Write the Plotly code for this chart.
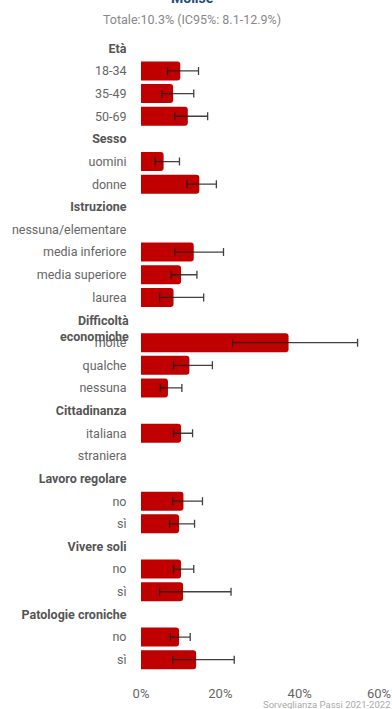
import plotly.graph_objects as go

# ---- data ----
groups = ["Età", "Sesso", "Istruzione", "Difficoltà<br>economiche", "Cittadinanza",
          "Lavoro regolare", "Vivere soli", "Patologie croniche"]
items = [
    ["18-34", "35-49", "50-69"],
    ["uomini", "donne"],
    ["nessuna/elementare", "media inferiore", "media superiore", "laurea"],
    ["molte", "qualche", "nessuna"],
    ["italiana", "straniera"],
    ["no", "sì"],
    ["no", "sì"],
    ["no", "sì"],
]
values = [
    [9.9, 8.1, 11.8],
    [5.7, 14.7],
    [None, 13.3, 10.1, 8.2],
    [37.2, 12.2, 6.8],
    [10.1, None],
    [10.7, 9.6],
    [10.1, 10.6],
    [9.6, 13.9],
]
ci_low = [
    [6.7, 5.3, 8.5],
    [3.6, 11.6],
    [None, 8.5, 7.6, 4.7],
    [23.1, 8.2, 4.9],
    [8.2, None],
    [8.0, 7.2],
    [8.2, 4.7],
    [7.4, 8.0],
]
ci_high = [
    [14.5, 13.3, 16.8],
    [9.7, 19.0],
    [None, 20.8, 14.1, 15.8],
    [54.6, 18.0, 10.3],
    [13.0, None],
    [15.5, 13.5],
    [13.3, 22.7],
    [12.4, 23.5],
]
x_ticks = [0, 20, 40, 60]
x_tick_labels = ["0%", "20%", "40%", "60%"]
title = "Molise"
subtitle = "Totale:10.3% (IC95%: 8.1-12.9%)"
source = "Sorveglianza Passi 2021-2022"

# ---- build rows ----
ys, xs, plus, minus = [], [], [], []
tickvals, ticktext = [], []
multiline_headers = []
pos = 0
for g, its, vals, lo, hi in zip(groups, items, values, ci_low, ci_high):
    tickvals.append(pos)
    if "<br>" in g:
        ticktext.append("")
        multiline_headers.append((pos, g))
    else:
        ticktext.append(f"<b><span style='color:#555555'>{g}</span></b>")
    pos += 1
    for it, v, l, h in zip(its, vals, lo, hi):
        tickvals.append(pos)
        ticktext.append(it)
        if v is not None:
            ys.append(pos)
            xs.append(v)
            plus.append(h - v)
            minus.append(v - l)
        pos += 1
n_rows = pos

fig = go.Figure()
fig.add_trace(go.Bar(
    x=xs, y=ys, orientation="h",
    marker=dict(color="#c00000", cornerradius=3, line=dict(width=0)),
    width=0.84,
    error_x=dict(type="data", symmetric=False, array=plus, arrayminus=minus,
                 color="rgba(30,30,30,0.85)", thickness=1.3, width=4),
    hoverinfo="skip",
))

fig.update_layout(
    width=392, height=709,
    margin=dict(l=141, r=13, t=37, b=38),
    paper_bgcolor="white", plot_bgcolor="white",
    showlegend=False,
    font=dict(family="Roboto, Arial, sans-serif", size=12.5, color="#666666"),
)
fig.update_yaxes(
    range=[n_rows - 0.5, -0.5],
    tickvals=tickvals, ticktext=ticktext, automargin=False,
    showgrid=False, zeroline=False, showline=False,
    ticks="outside", ticklen=11, tickcolor="rgba(0,0,0,0)",
    tickfont=dict(size=12.5, color="#666666"),
)
fig.update_xaxes(
    range=[0, 60], tickvals=x_ticks, ticktext=x_tick_labels, automargin=False,
    showgrid=False, zeroline=False, showline=False,
    ticks="outside", ticklen=10, tickcolor="rgba(0,0,0,0)",
    tickfont=dict(size=13, color="#666666"),
)
for p, g in multiline_headers:
    fig.add_annotation(text=f"<b>{g}</b>", xref="paper", yref="y",
                       x=0, y=p, xanchor="right", yanchor="middle",
                       xshift=-10, yshift=-8, showarrow=False, align="right",
                       font=dict(size=12.5, color="#555555"))
fig.add_annotation(text=f"<b>{title}</b>", xref="paper", yref="paper",
                   x=(192 - 141) / 238, y=1, yshift=39, xanchor="center", yanchor="middle",
                   showarrow=False, font=dict(size=14, color="#1f4e79"))
fig.add_annotation(text=subtitle, xref="paper", yref="paper",
                   x=(192 - 141) / 238, y=1, yshift=18, xanchor="center", yanchor="middle",
                   showarrow=False, font=dict(size=12.5, color="#888888"))
fig.add_annotation(text=source, xref="paper", yref="paper",
                   x=1.055, y=0, yshift=-33, xanchor="right", yanchor="middle",
                   showarrow=False, font=dict(size=9.5, color="#aaaaaa"))

fig.write_html("out.html")
